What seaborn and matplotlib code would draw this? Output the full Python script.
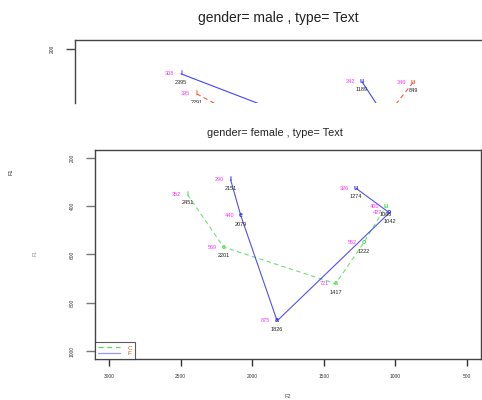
import numpy as np
import pandas as pd
import seaborn as sns
import matplotlib.pyplot as plt
from matplotlib.lines import Line2D

VOWELS = ['i', 'e', 'a', 'o', 'u']

# female panel
FEM_C_F2 = [2451, 2201, 1417, 1222, 1066]
FEM_C_F1 = [352, 569, 721, 552, 400]
FEM_F_F2 = [2151, 2079, 1826, 1042, 1274]
FEM_F_F1 = [290, 440, 875, 427, 326]

# male panel (only the top strip is visible, the rest is hidden)
MALE_B_F2 = [2395, 1548, 1500, 1050, 1189]
MALE_B_F1 = [308, 520, 750, 480, 342]
MALE_R_F2 = [2291, 1811, 1350, 1000, 849]
MALE_R_F1 = [395, 560, 700, 470, 346]

X_TICKS = [3000, 2500, 2000, 1500, 1000, 500]
Y_TICKS = [200, 400, 600, 800, 1000]

W, H = 482, 400

sns.set_style('ticks')
plt.rcParams['font.family'] = ['Liberation Sans', 'DejaVu Sans']


def px_box(left, top, right, bottom):
    return [left / W, 1 - bottom / H, (right - left) / W, (bottom - top) / H]


def make_df(groups):
    rows = []
    for name, f2s, f1s in groups:
        for v, f2, f1 in zip(VOWELS, f2s, f1s):
            rows.append(dict(group=name, vowel=v, F2=f2, F1=f1))
    return pd.DataFrame(rows)


def annotate(ax, df, colors):
    ylo, yhi = sorted(ax.get_ylim())
    for r in df.itertuples():
        if not (ylo <= r.F1 <= yhi):
            continue
        ax.text(r.F2, r.F1, r.vowel, color=colors[r.group], fontsize=5,
                ha='center', va='center', clip_on=True, fontweight='bold')
        ax.annotate(str(r.F1), (r.F2, r.F1), xytext=(-5, 0),
                    textcoords='offset points', ha='right', va='center',
                    fontsize=4, color='#ff33ff', annotation_clip=True)
        ax.annotate(str(r.F2), (r.F2, r.F1), xytext=(0, -6),
                    textcoords='offset points', ha='center', va='center',
                    fontsize=4, color='#222222', annotation_clip=False,
                    clip_on=True)


def style_frame(ax):
    for s in ax.spines.values():
        s.set_color('#444444')
        s.set_linewidth(1.0)


fig = plt.figure(figsize=(W / 100, H / 100), dpi=100)

# ---- male panel (cut off by the female one)
top = fig.add_axes(px_box(75, 40, 495, 103))
top.set_xlim(3102, 3102 - 420 / 0.15)
top.set_ylim(200 - 9 / 0.23 + 63 / 0.23, 200 - 9 / 0.23)
male = make_df([('F', MALE_B_F2, MALE_B_F1), ('M', MALE_R_F2, MALE_R_F1)])
mcol = {'F': '#4444ff', 'M': '#ff5533'}
sns.lineplot(data=male, x='F2', y='F1', hue='group', style='group',
             sort=False, estimator=None, palette=mcol,
             dashes={'F': '', 'M': (4, 3)}, linewidth=0.8, legend=False, ax=top)
top.set_xlim(3102, 3102 - 420 / 0.15)
top.set_ylim(200 - 9 / 0.23 + 63 / 0.23, 200 - 9 / 0.23)
annotate(top, male, mcol)
top.spines['bottom'].set_visible(False)
top.set_xticks([])
top.set_yticks([200])
top.set_yticklabels(['200'], rotation=90, va='center', fontsize=3.5)
top.tick_params(axis='y', length=6.5, width=1, color='#444444', pad=8)
top.set_xlabel('')
top.set_ylabel('')
style_frame(top)

# ---- female panel
ax = fig.add_axes(px_box(95, 150, 481, 359))
ax.set_xlim(3098, 402)
ax.set_ylim(1033, 167)
fem = make_df([('C', FEM_C_F2, FEM_C_F1), ('F', FEM_F_F2, FEM_F_F1)])
fcol = {'C': '#55dd55', 'F': '#3333ee'}
sns.lineplot(data=fem, x='F2', y='F1', hue='group', style='group',
             sort=False, estimator=None, palette=fcol,
             dashes={'C': (4, 3), 'F': ''}, linewidth=0.8, alpha=0.85,
             legend=False, ax=ax)
ax.set_xlim(3098, 402)
ax.set_ylim(1033, 167)
annotate(ax, fem, fcol)
ax.set_xticks(X_TICKS)
ax.set_xticklabels([str(t) for t in X_TICKS], fontsize=3.5, color='#333333')
ax.set_yticks(Y_TICKS)
ax.set_yticklabels([str(t) for t in Y_TICKS], rotation=90, va='center',
                   fontsize=3.5, color='#333333')
ax.tick_params(axis='y', length=6.5, width=1, color='#777777', pad=8)
ax.tick_params(axis='x', length=5, width=1, color='#333333', pad=6)
ax.set_xlabel('')
ax.set_ylabel('')
style_frame(ax)

handles = [Line2D([], [], color=fcol['C'], ls=(0, (4, 3)), lw=0.9),
           Line2D([], [], color=fcol['F'], ls='-', lw=0.9, alpha=0.5)]
leg = ax.legend(handles, ['C', 'F'], loc='lower left', borderaxespad=0,
                fontsize=4.5, handlelength=3.6, handletextpad=1.2,
                labelspacing=0.05, borderpad=0.45, fancybox=False,
                edgecolor='#333333', labelcolor='#aa6600')
leg.get_frame().set_linewidth(0.8)

# titles and axis names
fig.text(278 / W, 1 - 18 / H, 'gender= male , type= Text', ha='center',
         va='center', fontsize=10, color='#222222')
fig.text(275 / W, 1 - 133 / H, 'gender= female , type= Text', ha='center',
         va='center', fontsize=7.8, color='#222222')
fig.text(11 / W, 1 - 172 / H, 'F1', rotation=90, ha='center', va='center',
         fontsize=4, color='#222222')
fig.text(35 / W, 1 - 253 / H, 'F1', rotation=90, ha='center', va='center',
         fontsize=3.5, color='#888888')
fig.text(288 / W, 1 - 396 / H, 'F2', ha='center', va='center',
         fontsize=4, color='#444444')

fig.savefig('out.png', dpi=100)
